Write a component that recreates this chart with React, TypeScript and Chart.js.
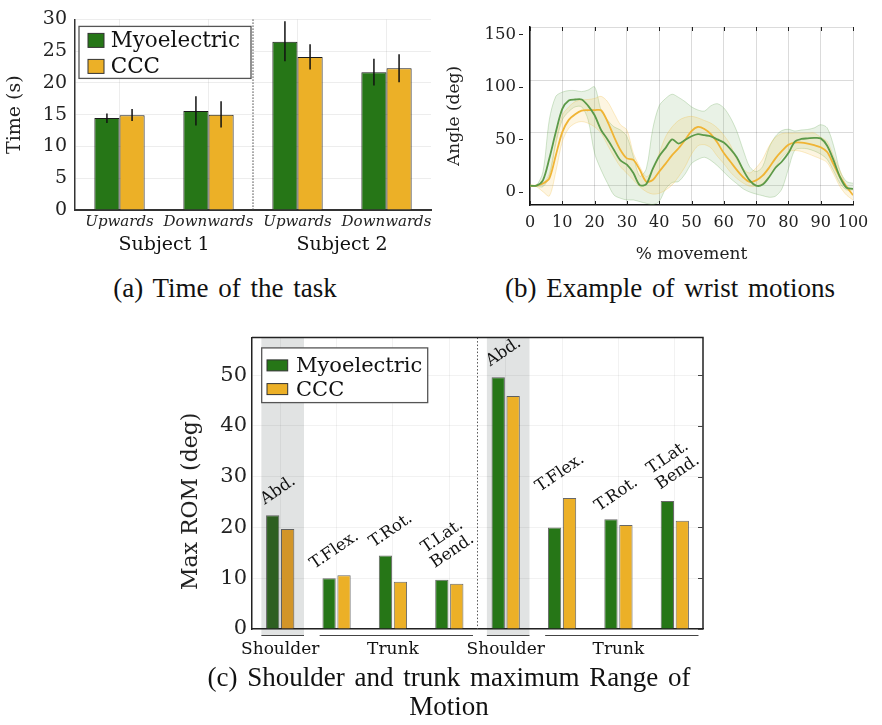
import React, { useEffect, useRef } from 'react';
import { Chart, registerables } from 'chart.js';

Chart.register(...registerables);

const FONT = '"DejaVu Serif", serif';
const GREEN = '#267617';
const YELLOW = '#ecb027';
const GREEN_DARK = '#2e5f21';
const YELLOW_DARK = '#d29528';
const BAND_GRAY = '#e1e3e3';

const seriesNames = ['Myoelectric', 'CCC'];

// ---------- (a) Time of the task ----------
const taskCategories = ['Upwards', 'Downwards', 'Upwards', 'Downwards'];
const taskSubjects = ['Subject 1', 'Subject 2'];
const taskMyo = [14.5, 15.6, 26.5, 21.7];
const taskMyoLow = [13.7, 13.3, 23.4, 19.6];
const taskMyoHigh = [15.2, 17.9, 29.7, 23.8];
const taskCcc = [14.9, 15.0, 24.1, 22.3];
const taskCccLow = [14.0, 13.0, 22.1, 20.1];
const taskCccHigh = [15.9, 17.1, 26.1, 24.5];

// ---------- (b) Example of wrist motions ----------
const movementPct = [0, 2, 4, 6, 8, 10, 12, 14, 16, 18, 20, 22, 24, 26, 28, 30, 32, 34, 36, 38, 40, 42, 44, 46, 48, 50, 52, 54, 56, 58, 60, 62, 64, 66, 68, 70, 72, 74, 76, 78, 80, 82, 84, 86, 88, 90, 92, 94, 96, 98, 100];
const wristMyoMean = [6, 6, 11, 32, 57, 79, 87, 88, 88, 82, 73, 59, 50, 40, 30, 26, 18, 6.5, 7.5, 22, 34, 42, 50, 46, 49.5, 53, 55, 54, 53, 50, 47, 41, 33, 21, 11, 6, 7, 14, 23, 29, 37, 48, 50.5, 51, 51.5, 51, 44, 30, 14, 4, 3];
const wristMyoUpper = [6, 6.5, 19, 69, 91, 95, 96.5, 96.5, 95.5, 97, 100, 78, 68.6, 62, 59, 52.7, 33.7, 15, 22, 60, 82, 89, 93, 90, 86, 81, 78, 77, 82, 84, 80, 71, 58, 40, 24, 19.4, 24, 42, 53, 58.5, 59.7, 58, 59, 59.5, 61, 64, 61, 44, 20, 10, 8.3];
const wristMyoLower = [6, 5.5, 5, 15, 46, 68.6, 76.5, 81, 81, 68.6, 36.8, 21, 8.3, -2.9, -6, -7.6, -7.6, -9.2, -10.8, -12, -9, 3, 9, 10, 17, 27, 31, 33, 30, 25, 19, 13, 8, 3, 0, -2, -3.5, -5, -4, 3, 22, 40, 41.5, 41, 39, 36, 31, 20, 8, 2, 2];
const wristCccMean = [6, 6, 8, 13, 35, 57, 68.6, 74, 77.5, 77.8, 77.8, 77.8, 67, 52.7, 40, 32, 30.5, 21, 9.8, 11.4, 19.4, 27, 35, 41.6, 49.5, 58, 62, 60, 55, 47, 37, 29, 21, 14, 9.5, 11, 15.5, 23, 32, 39, 45, 47, 47, 46, 44.5, 42.5, 38, 26, 14, 5, -3];
const wristCccUpper = [6, 6.5, 8, 17.8, 49.5, 73, 81, 86, 87.6, 88, 89, 91, 86, 75, 64, 59, 36.8, 24, 14.6, 21, 36.8, 52.7, 62, 68, 71, 72, 70.5, 68, 65.5, 61, 54, 45, 31, 22, 18, 23, 31, 43.5, 52, 55.5, 56, 56, 56, 56, 56, 52, 48, 34, 20, 6, 2];
const wristCccLower = [6, 5, 0.3, -3.8, 19.4, 48, 60.6, 65.4, 67, 65.4, 62, 56, 44.8, 33.7, 24, 17.8, 11.4, 5, 0.3, -2, -1.3, 1.9, 6.7, 14.6, 24, 36, 44, 45, 42, 34, 27, 19, 13, 8.5, 5.5, 5.5, 8, 14, 24, 33, 38.5, 39.5, 38.6, 36.5, 34, 31.5, 28, 17, 5, -3, -7.6];
const wristYTicks = [0, 50, 100, 150];
const wristGridLevels = [6.7, 56.7, 106.7, 156.7];

// ---------- (c) Max ROM ----------
const romCategories = [['Abd.'], ['T.Flex.'], ['T.Rot.'], ['T.Lat.', 'Bend.'], ['Abd.'], ['T.Flex.'], ['T.Rot.'], ['T.Lat.', 'Bend.']];
const romMyo = [22.4, 10.0, 14.5, 9.7, 49.6, 20.0, 21.6, 25.2];
const romCcc = [19.7, 10.6, 9.3, 8.9, 45.9, 25.8, 20.5, 21.3];
const romYTicks = [0, 10, 20, 30, 40, 50];
const romGroupNames = ['Shoulder', 'Trunk', 'Shoulder', 'Trunk'];
const romGroupStart = [0, 1, 4, 5];
const romGroupEnd = [0, 3, 4, 7];
const romYTitle = 'Max ROM (deg)';

const romMyoColors = [GREEN_DARK, GREEN, GREEN, GREEN, GREEN, GREEN, GREEN, GREEN];
const romCccColors = [YELLOW_DARK, YELLOW, YELLOW, YELLOW, YELLOW, YELLOW, YELLOW, YELLOW];

function makeBoxLegend(spec: any) {
  return {
    id: 'boxLegend',
    afterDraw(chart: any) {
      const { ctx, chartArea } = chart;
      const x0 = chartArea.left + spec.dx;
      const y0 = chartArea.top + spec.dy;
      ctx.save();
      ctx.fillStyle = '#fff';
      ctx.fillRect(x0, y0, spec.w, spec.h);
      ctx.strokeStyle = '#555';
      ctx.lineWidth = 1.3;
      ctx.strokeRect(x0, y0, spec.w, spec.h);
      ctx.font = `${spec.fontSize}px ${FONT}`;
      ctx.textBaseline = 'middle';
      ctx.textAlign = 'left';
      chart.data.datasets.forEach((ds: any, i: number) => {
        const sy = y0 + spec.swY + i * spec.rowGap;
        ctx.fillStyle = spec.colors[i];
        ctx.fillRect(x0 + spec.swX, sy, spec.swW, spec.swH);
        ctx.strokeStyle = '#333';
        ctx.lineWidth = 1;
        ctx.strokeRect(x0 + spec.swX, sy, spec.swW, spec.swH);
        ctx.fillStyle = '#111';
        ctx.fillText(ds.label, x0 + spec.textX, sy + spec.swH / 2 + 1);
      });
      ctx.restore();
    },
  };
}

function buildTask(): any {
  const errorBars = {
    id: 'errorBars',
    afterDatasetsDraw(chart: any) {
      const { ctx } = chart;
      const y = chart.scales.y;
      const lows = [taskMyoLow, taskCccLow];
      const highs = [taskMyoHigh, taskCccHigh];
      ctx.save();
      ctx.strokeStyle = '#111';
      ctx.lineWidth = 1.5;
      chart.data.datasets.forEach((_: any, di: number) => {
        chart.getDatasetMeta(di).data.forEach((bar: any, i: number) => {
          ctx.beginPath();
          ctx.moveTo(bar.x, y.getPixelForValue(lows[di][i]));
          ctx.lineTo(bar.x, y.getPixelForValue(highs[di][i]));
          ctx.stroke();
        });
      });
      ctx.restore();
    },
  };
  const decorations = {
    id: 'taskDecor',
    afterDraw(chart: any) {
      const { ctx, chartArea } = chart;
      const x = chart.scales.x;
      ctx.save();
      const sepX = (x.getPixelForValue(1) + x.getPixelForValue(2)) / 2;
      ctx.strokeStyle = '#444';
      ctx.lineWidth = 1;
      ctx.setLineDash([1.5, 1.5]);
      ctx.beginPath();
      ctx.moveTo(sepX, chartArea.top);
      ctx.lineTo(sepX, chartArea.bottom);
      ctx.stroke();
      ctx.setLineDash([]);
      ctx.font = `19px ${FONT}`;
      ctx.fillStyle = '#111';
      ctx.textAlign = 'center';
      ctx.textBaseline = 'alphabetic';
      taskSubjects.forEach((s, k) => {
        const cx = (x.getPixelForValue(2 * k) + x.getPixelForValue(2 * k + 1)) / 2;
        ctx.fillText(s, cx, chartArea.bottom + 39.5);
      });
      ctx.restore();
    },
  };
  return {
    type: 'bar',
    data: {
      labels: taskCategories,
      datasets: [
        { label: seriesNames[0], data: taskMyo, backgroundColor: GREEN, borderColor: '#1a1a1a', borderWidth: 1, categoryPercentage: 0.565, barPercentage: 1 },
        { label: seriesNames[1], data: taskCcc, backgroundColor: YELLOW, borderColor: '#1a1a1a', borderWidth: 1, categoryPercentage: 0.565, barPercentage: 1 },
      ],
    },
    options: {
      responsive: false,
      animation: false,
      devicePixelRatio: 1,
      events: [],
      layout: { padding: { top: 14, right: 9, left: 0, bottom: 0 } },
      plugins: { legend: { display: false }, tooltip: { enabled: false } },
      scales: {
        x: {
          grid: { color: 'rgba(0,0,0,0.07)', offset: false, drawTicks: false },
          border: { color: '#333', width: 2 },
          ticks: { font: { family: FONT, size: 15, style: 'italic' }, color: '#222', padding: 3, maxRotation: 0, minRotation: 0, autoSkip: false },
          afterFit: (s: any) => { s.height = 52; },
        },
        y: {
          min: 0,
          max: 30,
          ticks: { stepSize: 5, font: { family: FONT, size: 19 }, color: '#222', padding: 8 },
          grid: { color: 'rgba(0,0,0,0.07)', drawTicks: false },
          border: { color: '#333', width: 1.5 },
          title: { display: true, text: 'Time (s)', font: { family: FONT, size: 19 }, color: '#222', padding: { top: 4, bottom: 0 } },
          afterFit: (s: any) => { s.width = 75; },
        },
      },
    },
    plugins: [
      errorBars,
      decorations,
      makeBoxLegend({ dx: 4, dy: 7, w: 172, h: 52, swX: 9, swY: 7, swW: 16, swH: 14, rowGap: 26, textX: 31.7, fontSize: 21.5, colors: [GREEN, YELLOW] }),
    ],
  };
}

function buildWrist(): any {
  const pts = (vals: number[]) => movementPct.map((x, i) => ({ x, y: vals[i] }));
  const line = (label: string, vals: number[], color: string) => ({
    label, data: pts(vals), borderColor: color, borderWidth: 1.8, pointRadius: 0, tension: 0.3, fill: false,
  });
  const band = (vals: number[], border: string, fillColor: string, target: any) => ({
    label: '', data: pts(vals), borderColor: border, borderWidth: 0.8, pointRadius: 0, tension: 0.3, fill: target, backgroundColor: fillColor,
  });
  const wristDecor = {
    id: 'wristDecor',
    beforeDatasetsDraw(chart: any) {
      const { ctx, chartArea } = chart;
      const y = chart.scales.y;
      ctx.save();
      ctx.strokeStyle = 'rgba(0,0,0,0.14)';
      ctx.lineWidth = 1;
      wristGridLevels.forEach((v) => {
        const py = Math.round(y.getPixelForValue(v)) + 0.5;
        if (py < chartArea.top - 1 || py > chartArea.bottom) return;
        ctx.beginPath();
        ctx.moveTo(chartArea.left, py);
        ctx.lineTo(chartArea.right, py);
        ctx.stroke();
      });
      ctx.restore();
    },
    afterDraw(chart: any) {
      const { ctx, chartArea } = chart;
      const x = chart.scales.x;
      const y = chart.scales.y;
      ctx.save();
      ctx.strokeStyle = '#222';
      ctx.lineWidth = 1;
      x.ticks.forEach((t: any) => {
        const px = Math.round(x.getPixelForValue(t.value)) + 0.5;
        ctx.beginPath();
        ctx.moveTo(px, chartArea.bottom);
        ctx.lineTo(px, chartArea.bottom - 4);
        ctx.moveTo(px, chartArea.top);
        ctx.lineTo(px, chartArea.top + 4);
        ctx.stroke();
      });
      y.ticks.forEach((t: any) => {
        const py = Math.round(y.getPixelForValue(t.value)) + 0.5;
        ctx.beginPath();
        ctx.moveTo(chartArea.left - 11, py);
        ctx.lineTo(chartArea.left - 7, py);
        ctx.stroke();
      });
      ctx.restore();
    },
  };
  return {
    type: 'line',
    data: {
      datasets: [
        line(seriesNames[0], wristMyoMean, '#5c9a48'),
        line(seriesNames[1], wristCccMean, '#f0b434'),
        band(wristCccUpper, 'rgba(240,185,60,0.35)', 'rgba(245,190,70,0.16)', '+1'),
        band(wristCccLower, 'rgba(240,185,60,0.35)', 'rgba(245,190,70,0.16)', false),
        band(wristMyoUpper, 'rgba(100,165,80,0.35)', 'rgba(100,165,80,0.14)', '+1'),
        band(wristMyoLower, 'rgba(100,165,80,0.35)', 'rgba(100,165,80,0.14)', false),
      ],
    },
    options: {
      responsive: false,
      animation: false,
      devicePixelRatio: 1,
      events: [],
      layout: { padding: { top: 27, right: 29, left: 0, bottom: 0 } },
      plugins: { legend: { display: false }, tooltip: { enabled: false } },
      scales: {
        x: {
          type: 'linear',
          min: 0,
          max: 100,
          ticks: { stepSize: 10, font: { family: FONT, size: 16 }, color: '#222', padding: 8, maxRotation: 0, minRotation: 0, autoSkip: false },
          grid: { color: 'rgba(0,0,0,0.14)', drawTicks: false },
          border: { color: '#111', width: 1.5 },
          title: { display: true, text: '% movement', font: { family: FONT, size: 17 }, color: '#222', padding: { top: 0, bottom: 5 } },
          afterFit: (s: any) => { s.height = 65; },
        },
        y: {
          type: 'linear',
          min: -12.4,
          max: 157,
          afterBuildTicks: (s: any) => { s.ticks = wristYTicks.map((v) => ({ value: v })); },
          ticks: { font: { family: FONT, size: 16.5 }, color: '#222', padding: 14 },
          grid: { display: false, drawTicks: false },
          border: { color: '#111', width: 1.5 },
          title: { display: true, text: 'Angle (deg)', font: { family: FONT, size: 17 }, color: '#222', padding: { top: 4, bottom: 0 } },
          afterFit: (s: any) => { s.width = 90; },
        },
      },
    },
    plugins: [wristDecor],
  };
}

function buildRom(): any {
  const bandRange = (x: any, i: number) => {
    const cw = x.getPixelForValue(1) - x.getPixelForValue(0);
    const c = x.getPixelForValue(i) + 2.5;
    return [c - 0.378 * cw, c + 0.378 * cw];
  };
  const romBands = {
    id: 'romBands',
    beforeDraw(chart: any) {
      const { ctx, chartArea } = chart;
      const x = chart.scales.x;
      ctx.save();
      ctx.fillStyle = BAND_GRAY;
      romGroupStart.forEach((s, g) => {
        if (s !== romGroupEnd[g]) return;
        const [l, r] = bandRange(x, s);
        ctx.fillRect(l, chartArea.top, r - l, chartArea.bottom + 6 - chartArea.top);
      });
      ctx.restore();
    },
  };
  const romDecor = {
    id: 'romDecor',
    afterDatasetsDraw(chart: any) {
      const { ctx } = chart;
      const x = chart.scales.x;
      const y = chart.scales.y;
      ctx.save();
      ctx.font = `16.5px ${FONT}`;
      ctx.fillStyle = '#111';
      ctx.textAlign = 'center';
      ctx.textBaseline = 'middle';
      chart.data.labels.forEach((lines: string[], i: number) => {
        const cx = x.getPixelForValue(i) - 2;
        const top = y.getPixelForValue(Math.max(romMyo[i], romCcc[i]));
        const off = lines.length > 1 ? 36 : 25;
        ctx.save();
        ctx.translate(cx, top - off);
        ctx.rotate(-0.6);
        lines.forEach((ln, k) => ctx.fillText(ln, 0, (k - (lines.length - 1) / 2) * 18));
        ctx.restore();
      });
      ctx.restore();
    },
    afterDraw(chart: any) {
      const { ctx, chartArea } = chart;
      const x = chart.scales.x;
      const y = chart.scales.y;
      const cw = x.getPixelForValue(1) - x.getPixelForValue(0);
      ctx.save();
      // y-axis title
      ctx.save();
      ctx.font = `22px ${FONT}`;
      ctx.fillStyle = '#222';
      ctx.textAlign = 'center';
      ctx.textBaseline = 'middle';
      ctx.translate(41, (chartArea.top + chartArea.bottom) / 2 + 18);
      ctx.rotate(-Math.PI / 2);
      ctx.fillText(romYTitle, 0, 0);
      ctx.restore();
      const sepX = (x.getPixelForValue(3) + x.getPixelForValue(4)) / 2;
      ctx.strokeStyle = '#555';
      ctx.lineWidth = 1;
      ctx.setLineDash([1.5, 2]);
      ctx.beginPath();
      ctx.moveTo(sepX, chartArea.top);
      ctx.lineTo(sepX, chartArea.bottom);
      ctx.stroke();
      ctx.setLineDash([]);
      ctx.strokeStyle = '#222';
      ctx.lineWidth = 1.5;
      ctx.beginPath();
      ctx.moveTo(chartArea.left, chartArea.top);
      ctx.lineTo(chartArea.right, chartArea.top);
      ctx.lineTo(chartArea.right, chartArea.bottom);
      ctx.stroke();
      ctx.lineWidth = 1;
      ctx.strokeStyle = '#444';
      y.ticks.forEach((t: any) => {
        const py = Math.round(y.getPixelForValue(t.value)) + 0.5;
        ctx.beginPath();
        ctx.moveTo(chartArea.right - 5, py);
        ctx.lineTo(chartArea.right, py);
        ctx.stroke();
      });
      const ly = chartArea.bottom + 6.5;
      ctx.font = `17px ${FONT}`;
      ctx.fillStyle = '#111';
      ctx.textAlign = 'center';
      ctx.textBaseline = 'alphabetic';
      romGroupNames.forEach((name, g) => {
        const s = romGroupStart[g];
        const e = romGroupEnd[g];
        let l: number, r: number;
        if (s === e) {
          [l, r] = bandRange(x, s);
        } else {
          l = x.getPixelForValue(s) - 0.3 * cw;
          r = Math.min(x.getPixelForValue(e) + 0.42 * cw, chartArea.right);
        }
        ctx.strokeStyle = '#444';
        ctx.lineWidth = 1.2;
        ctx.beginPath();
        ctx.moveTo(l, ly);
        ctx.lineTo(r, ly);
        ctx.stroke();
        const cx = (x.getPixelForValue(s) + x.getPixelForValue(e)) / 2;
        ctx.fillText(name, cx, chartArea.bottom + 25);
      });
      ctx.restore();
    },
  };
  return {
    type: 'bar',
    data: {
      labels: romCategories,
      datasets: [
        { label: seriesNames[0], data: romMyo, backgroundColor: romMyoColors, borderColor: 'rgba(40,40,40,0.7)', borderWidth: 1, categoryPercentage: 0.53, barPercentage: 0.89 },
        { label: seriesNames[1], data: romCcc, backgroundColor: romCccColors, borderColor: 'rgba(40,40,40,0.7)', borderWidth: 1, categoryPercentage: 0.53, barPercentage: 0.89 },
      ],
    },
    options: {
      responsive: false,
      animation: false,
      devicePixelRatio: 1,
      events: [],
      layout: { padding: { top: 15.7, right: 27, left: 0, bottom: 0 } },
      plugins: { legend: { display: false }, tooltip: { enabled: false } },
      scales: {
        x: {
          grid: { color: 'rgba(0,0,0,0.05)', offset: false, drawTicks: false },
          border: { color: '#222', width: 1.5 },
          ticks: { display: false },
          afterFit: (s: any) => { s.height = 36; },
        },
        y: {
          min: 0,
          max: 57.4,
          afterBuildTicks: (s: any) => { s.ticks = romYTicks.map((v) => ({ value: v })); },
          ticks: { font: { family: FONT, size: 21 }, color: '#222', padding: 5 },
          grid: { color: 'rgba(0,0,0,0.05)', drawTicks: false },
          border: { color: '#222', width: 1.5 },
          title: { display: false },
          afterFit: (s: any) => { s.width = 102; },
        },
      },
    },
    plugins: [
      romBands,
      romDecor,
      makeBoxLegend({ dx: 9.7, dy: 10.3, w: 166, h: 54.7, swX: 5.3, swY: 12, swW: 20.7, swH: 11, rowGap: 23.7, textX: 34.3, fontSize: 21, colors: [GREEN, YELLOW] }),
    ],
  };
}

function ChartCanvas({ left, top, width, height, build }: any) {
  const ref = useRef<HTMLCanvasElement>(null);
  useEffect(() => {
    const chart = new Chart(ref.current as HTMLCanvasElement, build());
    return () => chart.destroy();
  }, []);
  return (
    <div style={{ position: 'absolute', left, top, width, height }}>
      <canvas ref={ref} width={width} height={height} style={{ width, height, display: 'block' }} />
    </div>
  );
}

const captionStyle: any = {
  position: 'absolute',
  fontFamily: '"Liberation Serif", "Times New Roman", serif',
  fontSize: 27,
  lineHeight: '30px',
  wordSpacing: '3px',
  color: '#111',
  textAlign: 'center',
  whiteSpace: 'nowrap',
};

export default function App() {
  return (
    <div style={{ position: 'absolute', left: 0, top: 0, width: 882, height: 725, background: '#fff', overflow: 'hidden' }}>
      <ChartCanvas left={0} top={0} width={440} height={262} build={buildTask} />
      <ChartCanvas left={440} top={0} width={442} height={270} build={buildWrist} />
      <ChartCanvas left={150} top={320} width={580} height={345} build={buildRom} />
      <div style={{ ...captionStyle, left: 0, width: 450, top: 273 }}>(a) Time of the task</div>
      <div style={{ ...captionStyle, left: 440, width: 460, top: 273 }}>(b) Example of wrist motions</div>
      <div style={{ ...captionStyle, left: 0, width: 898, top: 662 }}>(c) Shoulder and trunk maximum Range of</div>
      <div style={{ ...captionStyle, left: 0, width: 898, top: 691 }}>Motion</div>
    </div>
  );
}
